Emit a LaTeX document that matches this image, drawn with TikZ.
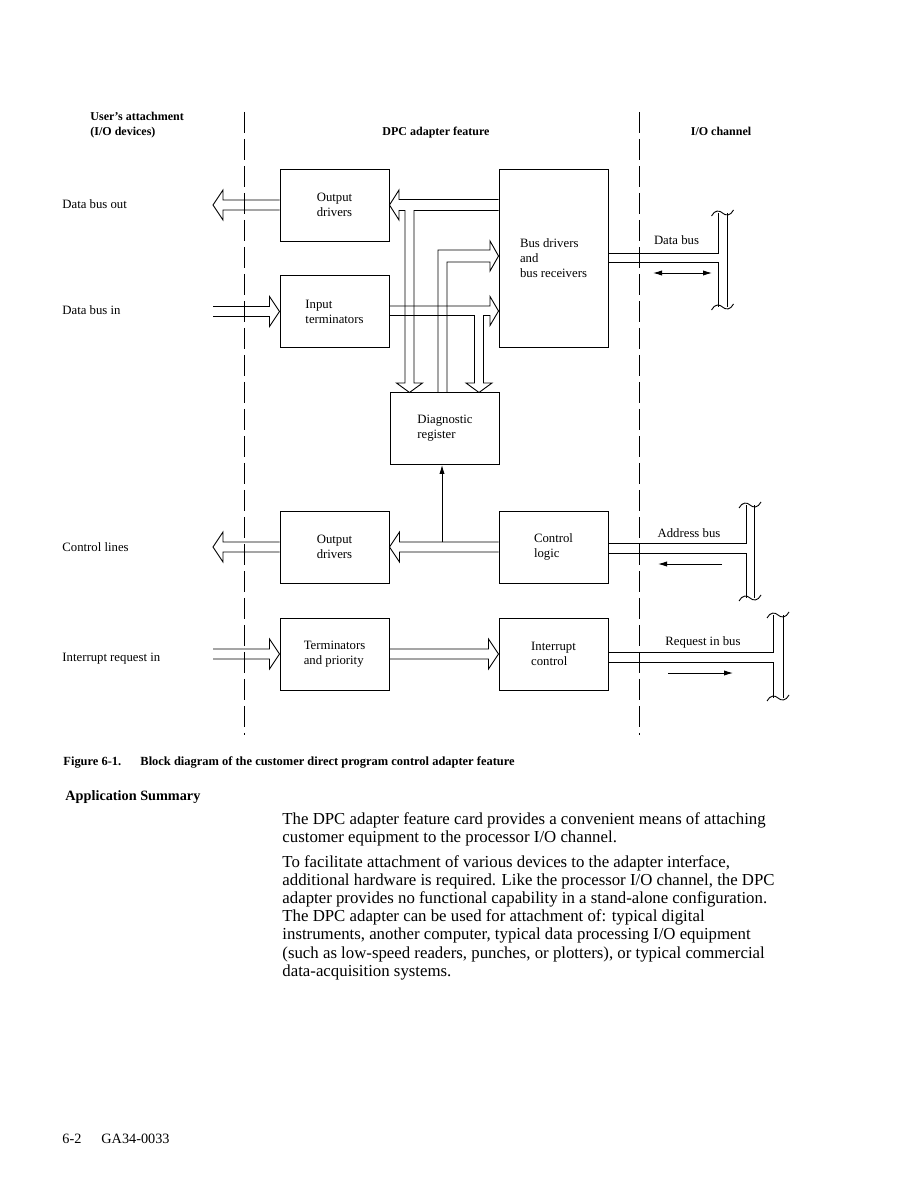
\documentclass[tikz,border=0pt]{standalone}
\usepackage{fontspec}
\setmainfont{Liberation Serif}
\usetikzlibrary{arrows.meta,calc}

\tikzset{
  blk/.style={draw,minimum width=72.7pt,minimum height=48pt,align=left,inner sep=0pt,font=\fontsize{8.5}{10}\selectfont},
  lbl/.style={anchor=base west,inner sep=0pt,font=\fontsize{8.5}{10}\selectfont},
  hdr/.style={align=left,inner sep=0pt,font=\bfseries\fontsize{8}{10}\selectfont},
  divider/.style={dash pattern=on 14pt off 4pt},
  % open double-line arrow, #1 = head length (negative points right)
  fatarrow/.style={to path={($(\tikztostart)+(0,-5)$) -- ($(\tikztotarget)+(#1,-5)$) -- ($(\tikztotarget)+(#1,-15)$) -- (\tikztotarget) -- ($(\tikztotarget)+(#1,15)$) -- ($(\tikztotarget)+(#1,5)$) -- ($(\tikztostart)+(0,5)$)}},
  thin/.style={-{Latex[length=6pt,width=3.5pt]}},
  brk/.pic={\draw (-11,3) .. controls (-8,-3) and (-3,-3) .. (0,0) .. controls (3,3) and (8,3) .. (11,-3);}
}

\begin{document}
\begin{tikzpicture}[x=0.6667pt,y=-0.6667pt,line width=0.6pt]
\useasboundingbox (0,0) rectangle (919,1188);

% column headings and dividers
\node[hdr,anchor=base west] (hduser) at (90,136) {User’s attachment\\(I/O devices)};
\node[hdr,anchor=base] (hddpc) at (436,136) {DPC adapter feature};
\node[hdr,anchor=base] (hdchan) at (721,136) {I/O channel};
\draw[divider] (244,112) -- (244,735);
\draw[divider] (639,112) -- (639,735);

% left hand signal names
\node[lbl] (lbdbo) at (62,209) {Data bus out};
\node[lbl] (lbdbi) at (62,314) {Data bus in};
\node[lbl] (lbctl) at (62,551) {Control lines};
\node[lbl] (lbirq) at (62,661) {Interrupt request in};

% blocks
\node[blk] (outdrvA) at (334.5,205) {Output\\drivers};
\node[blk] (interm) at (334.5,311.5) {Input\\terminators};
\node[blk,minimum height=118.7pt] (busdrv) at (553.5,258) {Bus drivers\\and\\bus receivers};
\node[blk] (diagreg) at (445,428.5) {Diagnostic\\register};
\node[blk] (outdrvB) at (334.5,547) {Output\\drivers};
\node[blk] (ctllogic) at (553.5,547) {Control\\logic};
\node[blk] (termprio) at (334.5,654) {Terminators\\and priority};
\node[blk] (intctl) at (553.5,654) {Interrupt\\control};

% free ends
\coordinate (dbout) at (213,205);
\coordinate (dbin) at (213,311.5);
\coordinate (ctlout) at (213,547);
\coordinate (irqin) at (213,654);
\coordinate (tap) at (442,542);

% straight fat arrows
\draw (outdrvA.west) to[fatarrow=10] (dbout);
\draw (dbin) to[fatarrow=-10] (interm.west);
\draw (outdrvB.west) to[fatarrow=10] (ctlout);
\draw (ctllogic.west) to[fatarrow=10] (outdrvB.east);
\draw (irqin) to[fatarrow=-10] (termprio.west);
\draw (termprio.east) to[fatarrow=-10] (intctl.west);

% internal buses with taps to the diagnostic register
\draw (busdrv.west |- 0,199.5) -- (399,199.5) -- (399,190) -- (outdrvA.east) -- (399,220) -- (399,210.5) -- (405,210.5) -- (405,383) -- (396.5,383) -- (409.5,392.5) -- (422.5,383) -- (414,383) -- (414,210.5) -- (busdrv.west |- 0,210.5);
\draw (438,392.5) -- (438,250) -- (490,250) -- (490,241) -- (busdrv.west |- 0,256) -- (490,271) -- (490,262) -- (447,262) -- (447,392.5);
\draw (interm.east |- 0,306) -- (490,306) -- (490,296.5) -- (busdrv.west |- 0,311) -- (490,325.5) -- (490,315.5) -- (483.5,315.5) -- (483.5,383) -- (492,383) -- (479,392.5) -- (466,383) -- (474.5,383) -- (474.5,315.5) -- (interm.east |- 0,315.5);
\draw[thin] (tap) -- (tap |- diagreg.south);

% I/O channel buses
\draw (busdrv.east |- 0,253) -- (718,253) -- (718,213);
\draw (busdrv.east |- 0,262) -- (718,262) -- (718,307);
\draw (727,213) -- (727,307);
\pic at (722.5,213) {brk};
\pic at (722.5,307) {brk};
\node[lbl,anchor=base] (lbdbus) at (676.5,244) {Data bus};
\coordinate (dbL) at (653,273);
\coordinate (dbR) at (712,273);
\draw[{Latex[length=6pt,width=3.5pt]}-{Latex[length=6pt,width=3.5pt]}] (dbL) -- (dbR);

\draw (ctllogic.east |- 0,543) -- (746,543) -- (746,505);
\draw (ctllogic.east |- 0,553) -- (746,553) -- (746,598);
\draw (754,505) -- (754,598);
\pic at (750,505) {brk};
\pic at (750,598) {brk};
\node[lbl,anchor=base] (lbabus) at (689,537) {Address bus};
\coordinate (abR) at (722,564);
\coordinate (abL) at (658,564);
\draw[thin] (abR) -- (abL);

\draw (intctl.east |- 0,652) -- (773,652) -- (773,615);
\draw (intctl.east |- 0,662) -- (773,662) -- (773,698);
\draw (783,615) -- (783,698);
\pic at (778,615) {brk};
\pic at (778,698) {brk};
\node[lbl,anchor=base] (lbrbus) at (703,645) {Request in bus};
\coordinate (rbL) at (668,673);
\coordinate (rbR) at (733,673);
\draw[thin] (rbL) -- (rbR);

% caption and text
\node[anchor=base west,inner sep=0pt,font=\bfseries\fontsize{8.3}{10}\selectfont] (figno) at (63,765) {Figure 6-1.};
\node[anchor=base west,inner sep=0pt,font=\bfseries\fontsize{8.3}{10}\selectfont] (figcap) at (140,765) {Block diagram of the customer direct program control adapter feature};
\node[anchor=base west,inner sep=0pt,font=\bfseries\fontsize{9.5}{11}\selectfont] (apphd) at (65,800) {Application Summary};
\node[anchor=base west,align=left,inner sep=0pt,font=\fontsize{11.2}{12.05}\selectfont] (para1) at (282,842.9) {The DPC adapter feature card provides a convenient means of attaching\\customer equipment to the processor I/O channel.};
\node[anchor=base west,align=left,inner sep=0pt,font=\fontsize{11.2}{12.05}\selectfont] (para2) at (282,976.1) {To facilitate attachment of various devices to the adapter interface,\\additional hardware is required. Like the processor I/O channel, the DPC\\adapter provides no functional capability in a stand-alone configuration.\\The DPC adapter can be used for attachment of: typical digital\\instruments, another computer, typical data processing I/O equipment\\(such as low-speed readers, punches, or plotters), or typical commercial\\data-acquisition systems.};
\node[anchor=base west,inner sep=0pt,font=\fontsize{9.5}{11}\selectfont] (pgno) at (62,1143) {6-2};
\node[anchor=base west,inner sep=0pt,font=\fontsize{9.5}{11}\selectfont] (docno) at (101,1143) {GA34-0033};
\end{tikzpicture}
\end{document}
